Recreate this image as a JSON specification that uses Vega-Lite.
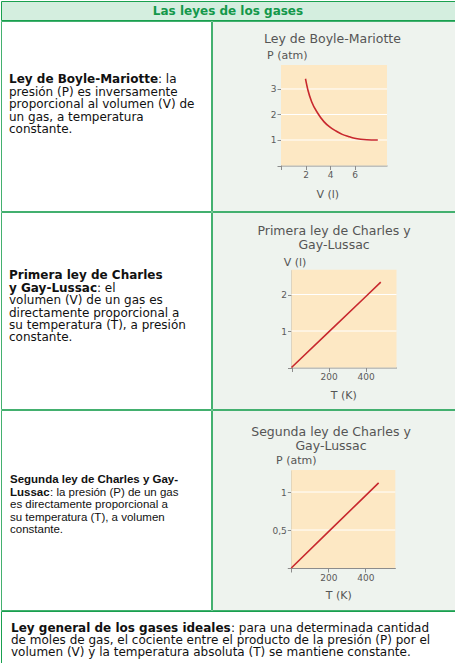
{
  "$schema": "https://vega.github.io/schema/vega-lite/v6.json",
  "padding": 0,
  "background": "white",
  "spacing": -2,
  "config": {
    "view": {"stroke": "#43b06f", "strokeWidth": 1},
    "concat": {"spacing": -2},
    "axis": {"grid": false, "domainColor": "#8c8c8c", "tickColor": "#8c8c8c", "tickSize": 4, "labelFont": "DejaVu Sans", "labelFontSize": 9, "labelColor": "#5a5a5a", "labelPadding": 1},
    "text": {"font": "DejaVu Sans", "fontSize": 12, "color": "#111111", "baseline": "middle"},
    "line": {"color": "#c8282e", "strokeWidth": 1.6}
  },
  "vconcat": [
    {
      "width": 454, "height": 19,
      "view": {"fill": "#d4eedf", "stroke": "#19a04f", "strokeWidth": 1},
      "data": {"values": [{"t": "Las leyes de los gases"}]},
      "mark": {"type": "text", "fontWeight": "bold", "fontSize": 12, "color": "#13984a"},
      "encoding": {"text": {"field": "t"}}
    },
    {
      "spacing": -2,
      "hconcat": [
        {
          "width": 210, "height": 190,
          "view": {"fill": "white"},
          "layer": [
            {
              "data": {"values": [{"line": 1, "t": "Ley de Boyle-Mariotte"}]},
              "mark": {"type": "text", "align": "left", "fontWeight": "bold"},
              "encoding": {
                "x": {"datum": 0, "type": "quantitative", "scale": {"domain": [0, 1], "range": [8, 200], "nice": false}, "axis": null},
                "y": {"field": "line", "type": "quantitative", "scale": {"domain": [1, 5], "range": [58, 108], "nice": false}, "axis": null},
                "text": {"field": "t"}
              }
            },
            {
              "data": {"values": [{"line": 1, "t": ": la"}]},
              "mark": {"type": "text", "align": "left", "dx": 149},
              "encoding": {
                "x": {"datum": 0, "type": "quantitative", "axis": null},
                "y": {"field": "line", "type": "quantitative", "axis": null},
                "text": {"field": "t"}
              }
            },
            {
              "data": {"values": [
                {"line": 2, "t": "presión (P) es inversamente"},
                {"line": 3, "t": "proporcional al volumen (V) de"},
                {"line": 4, "t": "un gas, a temperatura"},
                {"line": 5, "t": "constante."}
              ]},
              "mark": {"type": "text", "align": "left"},
              "encoding": {
                "x": {"datum": 0, "type": "quantitative", "axis": null},
                "y": {"field": "line", "type": "quantitative", "axis": null},
                "text": {"field": "t"}
              }
            }
          ]
        },
        {
          "width": 244, "height": 190,
          "view": {"fill": "#eef3ee"},
          "layer": [
            {
              "data": {"values": [{}]},
              "mark": {"type": "rect", "color": "#fde8c4"},
              "encoding": {
                "x": {"datum": 0, "type": "quantitative"},
                "x2": {"datum": 8.65},
                "y": {"datum": 0, "type": "quantitative"},
                "y2": {"datum": 3.94}
              }
            },
            {
              "data": {"values": [{"g": 1}, {"g": 2}, {"g": 3}]},
              "mark": {"type": "rule", "color": "white", "strokeWidth": 1},
              "encoding": {
                "y": {"field": "g", "type": "quantitative"},
                "x": {"datum": 0, "type": "quantitative"},
                "x2": {"datum": 8.65}
              }
            },
            {
              "data": {"values": [
                {"V": 2.0, "P": 3.4}, {"V": 2.2, "P": 2.95}, {"V": 2.5, "P": 2.5}, {"V": 3.0, "P": 2.05},
                {"V": 3.5, "P": 1.72}, {"V": 4.0, "P": 1.5}, {"V": 4.5, "P": 1.35}, {"V": 5.0, "P": 1.22},
                {"V": 5.5, "P": 1.14}, {"V": 6.0, "P": 1.07}, {"V": 6.5, "P": 1.03}, {"V": 7.0, "P": 1.01},
                {"V": 7.9, "P": 1.0}
              ]},
              "mark": {"type": "line", "interpolate": "monotone"},
              "encoding": {
                "x": {"field": "V", "type": "quantitative", "scale": {"domain": [0, 8.65], "range": [69, 175], "nice": false},
                      "axis": {"values": [0, 2, 4, 6], "labelExpr": "datum.value == 0 ? '' : format(datum.value, 'd')", "offset": -45.5, "title": null}},
                "y": {"field": "P", "type": "quantitative", "scale": {"domain": [0, 3.94], "range": [144.5, 44], "nice": false},
                      "axis": {"values": [0, 1, 2, 3], "labelExpr": "datum.value == 0 ? '' : format(datum.value, 'd')", "offset": -69, "title": null}}
              }
            },
            {
              "data": {"values": [{"t": "Ley de Boyle-Mariotte"}]},
              "mark": {"type": "text", "fontSize": 12.5, "color": "#555555"},
              "encoding": {
                "x": {"datum": 4.2, "type": "quantitative"},
                "y": {"datum": 4.96, "type": "quantitative"},
                "text": {"field": "t"}
              }
            },
            {
              "data": {"values": [{"t": "P (atm)"}]},
              "mark": {"type": "text", "align": "left", "fontSize": 11, "color": "#555555"},
              "encoding": {
                "x": {"datum": -1.14, "type": "quantitative"},
                "y": {"datum": 4.29, "type": "quantitative"},
                "text": {"field": "t"}
              }
            },
            {
              "data": {"values": [{"t": "V (l)"}]},
              "mark": {"type": "text", "fontSize": 11, "color": "#555555"},
              "encoding": {
                "x": {"datum": 3.82, "type": "quantitative"},
                "y": {"datum": -1.145, "type": "quantitative"},
                "text": {"field": "t"}
              }
            }
          ]
        }
      ]
    },
    {
      "spacing": -2,
      "hconcat": [
        {
          "width": 210, "height": 197,
          "view": {"fill": "white"},
          "layer": [
            {
              "data": {"values": [{"line": 1, "t": "Primera ley de Charles"}, {"line": 2, "t": "y Gay-Lussac"}]},
              "mark": {"type": "text", "align": "left", "fontWeight": "bold"},
              "encoding": {
                "x": {"datum": 0, "type": "quantitative", "scale": {"domain": [0, 1], "range": [8, 200], "nice": false}, "axis": null},
                "y": {"field": "line", "type": "quantitative", "scale": {"domain": [1, 6], "range": [63.3, 125.3], "nice": false}, "axis": null},
                "text": {"field": "t"}
              }
            },
            {
              "data": {"values": [{"line": 2, "t": ": el"}]},
              "mark": {"type": "text", "align": "left", "dx": 88},
              "encoding": {
                "x": {"datum": 0, "type": "quantitative", "axis": null},
                "y": {"field": "line", "type": "quantitative", "axis": null},
                "text": {"field": "t"}
              }
            },
            {
              "data": {"values": [
                {"line": 3, "t": "volumen (V) de un gas es"},
                {"line": 4, "t": "directamente proporcional a"},
                {"line": 5, "t": "su temperatura (T), a presión"},
                {"line": 6, "t": "constante."}
              ]},
              "mark": {"type": "text", "align": "left"},
              "encoding": {
                "x": {"datum": 0, "type": "quantitative", "axis": null},
                "y": {"field": "line", "type": "quantitative", "axis": null},
                "text": {"field": "t"}
              }
            }
          ]
        },
        {
          "width": 244, "height": 197,
          "view": {"fill": "#eef3ee"},
          "layer": [
            {
              "data": {"values": [{}]},
              "mark": {"type": "rect", "color": "#fde8c4"},
              "encoding": {
                "x": {"datum": 0, "type": "quantitative"},
                "x2": {"datum": 567},
                "y": {"datum": 0, "type": "quantitative"},
                "y2": {"datum": 2.68}
              }
            },
            {
              "data": {"values": [{"g": 1}, {"g": 2}]},
              "mark": {"type": "rule", "color": "white", "strokeWidth": 1},
              "encoding": {
                "y": {"field": "g", "type": "quantitative"},
                "x": {"datum": 0, "type": "quantitative"},
                "x2": {"datum": 567}
              }
            },
            {
              "data": {"values": [
                {"T": 0, "V": 0}, {"T": 200, "V": 0.97}, {"T": 400, "V": 1.94}, {"T": 482, "V": 2.34}
              ]},
              "mark": {"type": "line"},
              "encoding": {
                "x": {"field": "T", "type": "quantitative", "scale": {"domain": [0, 567], "range": [79.5, 184.5], "nice": false},
                      "axis": {"values": [0, 200, 400], "labelExpr": "datum.value == 0 ? '' : format(datum.value, 'd')", "offset": -41.5, "title": null}},
                "y": {"field": "V", "type": "quantitative", "scale": {"domain": [0, 2.68], "range": [155.5, 57.7], "nice": false},
                      "axis": {"values": [0, 1, 2], "labelExpr": "datum.value == 0 ? '' : format(datum.value, 'd')", "offset": -79.5, "title": null}}
              }
            },
            {
              "data": {"values": [{"t": ["Primera ley de Charles y", "Gay-Lussac"]}]},
              "mark": {"type": "text", "fontSize": 12.5, "color": "#555555", "lineHeight": 14},
              "encoding": {
                "x": {"datum": 229.7, "type": "quantitative"},
                "y": {"datum": 3.73, "type": "quantitative"},
                "text": {"field": "t"}
              }
            },
            {
              "data": {"values": [{"t": "V (l)"}]},
              "mark": {"type": "text", "align": "left", "fontSize": 11, "color": "#555555"},
              "encoding": {
                "x": {"datum": -42, "type": "quantitative"},
                "y": {"datum": 2.86, "type": "quantitative"},
                "text": {"field": "t"}
              }
            },
            {
              "data": {"values": [{"t": "T (K)"}]},
              "mark": {"type": "text", "fontSize": 11, "color": "#555555"},
              "encoding": {
                "x": {"datum": 282, "type": "quantitative"},
                "y": {"datum": -0.773, "type": "quantitative"},
                "text": {"field": "t"}
              }
            }
          ]
        }
      ]
    },
    {
      "spacing": -2,
      "hconcat": [
        {
          "width": 210, "height": 200,
          "view": {"fill": "white"},
          "layer": [
            {
              "data": {"values": [{"line": 1, "t": "Segunda ley de Charles y Gay-"}, {"line": 2, "t": "Lussac"}]},
              "mark": {"type": "text", "align": "left", "fontWeight": "bold", "font": "Liberation Sans", "fontSize": 11.5},
              "encoding": {
                "x": {"datum": 0, "type": "quantitative", "scale": {"domain": [0, 1], "range": [9, 200], "nice": false}, "axis": null},
                "y": {"field": "line", "type": "quantitative", "scale": {"domain": [1, 5], "range": [70, 120], "nice": false}, "axis": null},
                "text": {"field": "t"}
              }
            },
            {
              "data": {"values": [{"line": 2, "t": ": la presión (P) de un gas"}]},
              "mark": {"type": "text", "align": "left", "font": "Liberation Sans", "fontSize": 11.5, "dx": 40},
              "encoding": {
                "x": {"datum": 0, "type": "quantitative", "axis": null},
                "y": {"field": "line", "type": "quantitative", "axis": null},
                "text": {"field": "t"}
              }
            },
            {
              "data": {"values": [
                {"line": 3, "t": "es directamente proporcional a"},
                {"line": 4, "t": "su temperatura (T), a volumen"},
                {"line": 5, "t": "constante."}
              ]},
              "mark": {"type": "text", "align": "left", "font": "Liberation Sans", "fontSize": 11.5},
              "encoding": {
                "x": {"datum": 0, "type": "quantitative", "axis": null},
                "y": {"field": "line", "type": "quantitative", "axis": null},
                "text": {"field": "t"}
              }
            }
          ]
        },
        {
          "width": 244, "height": 200,
          "view": {"fill": "#eef3ee"},
          "layer": [
            {
              "data": {"values": [{}]},
              "mark": {"type": "rect", "color": "#fde8c4"},
              "encoding": {
                "x": {"datum": 0, "type": "quantitative"},
                "x2": {"datum": 562},
                "y": {"datum": 0, "type": "quantitative"},
                "y2": {"datum": 1.29}
              }
            },
            {
              "data": {"values": [{"g": 0.5}, {"g": 1}]},
              "mark": {"type": "rule", "color": "white", "strokeWidth": 1},
              "encoding": {
                "y": {"field": "g", "type": "quantitative"},
                "x": {"datum": 0, "type": "quantitative"},
                "x2": {"datum": 562}
              }
            },
            {
              "data": {"values": [
                {"T": 0, "P": 0}, {"T": 200, "P": 0.475}, {"T": 400, "P": 0.95}, {"T": 472, "P": 1.12}
              ]},
              "mark": {"type": "line"},
              "encoding": {
                "x": {"field": "T", "type": "quantitative", "scale": {"domain": [0, 562], "range": [79.3, 183.3], "nice": false},
                      "axis": {"values": [0, 200, 400], "labelExpr": "datum.value == 0 ? '' : format(datum.value, 'd')", "offset": -42, "title": null}},
                "y": {"field": "P", "type": "quantitative", "scale": {"domain": [0, 1.29], "range": [158, 60], "nice": false},
                      "axis": {"values": [0, 0.5, 1], "labelExpr": "datum.value == 0 ? '' : datum.value == 1 ? '1' : '0,5'", "offset": -79.3, "title": null}}
              }
            },
            {
              "data": {"values": [{"t": ["Segunda ley de Charles y", "Gay-Lussac"]}]},
              "mark": {"type": "text", "fontSize": 12.5, "color": "#555555", "lineHeight": 14},
              "encoding": {
                "x": {"datum": 214.6, "type": "quantitative"},
                "y": {"datum": 1.793, "type": "quantitative"},
                "text": {"field": "t"}
              }
            },
            {
              "data": {"values": [{"t": "P (atm)"}]},
              "mark": {"type": "text", "align": "left", "fontSize": 11, "color": "#555555"},
              "encoding": {
                "x": {"datum": -82.7, "type": "quantitative"},
                "y": {"datum": 1.404, "type": "quantitative"},
                "text": {"field": "t"}
              }
            },
            {
              "data": {"values": [{"t": "T (K)"}]},
              "mark": {"type": "text", "fontSize": 11, "color": "#555555"},
              "encoding": {
                "x": {"datum": 256, "type": "quantitative"},
                "y": {"datum": -0.364, "type": "quantitative"},
                "text": {"field": "t"}
              }
            }
          ]
        }
      ]
    },
    {
      "width": 454, "height": 56,
      "view": {"fill": "white", "stroke": "#19a04f", "strokeWidth": 1},
      "layer": [
        {
          "data": {"values": [{"line": 1, "t": "Ley general de los gases ideales"}]},
          "mark": {"type": "text", "align": "left", "fontWeight": "bold"},
          "encoding": {
            "x": {"datum": 0, "type": "quantitative", "scale": {"domain": [0, 1], "range": [10, 450], "nice": false}, "axis": null},
            "y": {"field": "line", "type": "quantitative", "scale": {"domain": [1, 3], "range": [16.5, 40.5], "nice": false}, "axis": null},
            "text": {"field": "t"}
          }
        },
        {
          "data": {"values": [{"line": 1, "t": ": para una determinada cantidad"}]},
          "mark": {"type": "text", "align": "left", "dx": 220},
          "encoding": {
            "x": {"datum": 0, "type": "quantitative", "axis": null},
            "y": {"field": "line", "type": "quantitative", "axis": null},
            "text": {"field": "t"}
          }
        },
        {
          "data": {"values": [
            {"line": 2, "t": "de moles de gas, el cociente entre el producto de la presión (P) por el"},
            {"line": 3, "t": "volumen (V) y la temperatura absoluta (T) se mantiene constante."}
          ]},
          "mark": {"type": "text", "align": "left"},
          "encoding": {
            "x": {"datum": 0, "type": "quantitative", "axis": null},
            "y": {"field": "line", "type": "quantitative", "axis": null},
            "text": {"field": "t"}
          }
        }
      ]
    }
  ]
}
